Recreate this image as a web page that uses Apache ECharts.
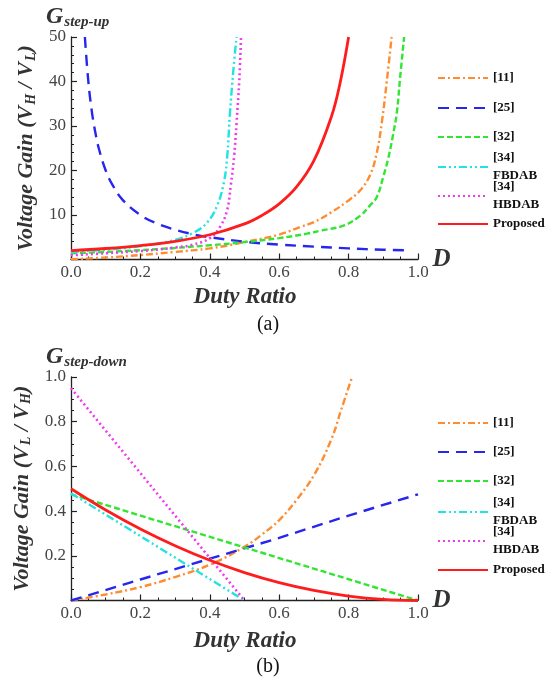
<!DOCTYPE html>
<html><head><meta charset="utf-8">
<script src="https://cdn.jsdelivr.net/npm/echarts@6/dist/echarts.min.js"></script>
<style>html,body{margin:0;padding:0;background:#fff}#c{width:554px;height:681px}</style>
</head><body><div id="c"></div>
<script>
// ---------- data ----------
const seriesNames = ['[11]', '[25]', '[32]', '[34] FBDAB', '[34] HBDAB', 'Proposed'];

// (a) step-up voltage gain
const upD11 = [0, 0.1, 0.2, 0.3, 0.4, 0.5, 0.6, 0.66, 0.7, 0.75, 0.795, 0.833, 0.862, 0.881, 0.896, 0.91, 0.924];
const upG11 = [0.05, 0.44, 1.0, 1.7, 2.5, 3.9, 5.6, 7.3, 8.4, 10.6, 13, 15.5, 19, 23.9, 31, 40, 50];
const upD25 = [0.04, 0.05, 0.06, 0.07, 0.08, 0.1, 0.12, 0.15, 0.2, 0.25, 0.3, 0.35, 0.4, 0.5, 0.6, 0.7, 0.8, 0.9, 0.98];
const upG25 = [50, 40, 33.3, 28.6, 25, 20, 16.7, 13.3, 10, 8, 6.7, 5.7, 5, 4, 3.35, 2.9, 2.5, 2.2, 2.05];
const upD32 = [0, 0.1, 0.2, 0.3, 0.4, 0.5, 0.6, 0.68, 0.72, 0.785, 0.833, 0.86, 0.881, 0.9, 0.915, 0.928, 0.939, 0.948, 0.96];
const upG32 = [1.4, 1.7, 2.1, 2.6, 3.2, 3.9, 4.8, 5.8, 6.5, 7.6, 9.8, 12, 14, 18.6, 23, 28, 33, 40.5, 50];
const upDFB = [0, 0.1, 0.2, 0.25, 0.3, 0.35, 0.39, 0.42, 0.44, 0.45, 0.458, 0.468, 0.477];
const upGFB = [1.7, 2.2, 3.0, 3.6, 4.4, 5.9, 8.1, 11.9, 17.1, 23, 32.8, 42.6, 50];
const upDHB = [0, 0.1, 0.2, 0.26, 0.3, 0.35, 0.4, 0.43, 0.45, 0.46, 0.47, 0.477, 0.485, 0.49];
const upGHB = [0.95, 1.4, 1.9, 2.3, 2.7, 3.3, 4.8, 7.4, 11.1, 16.4, 23.1, 30.6, 40.3, 50];
const upDP  = [0, 0.1, 0.2, 0.3, 0.4, 0.5, 0.55, 0.6, 0.65, 0.7, 0.75, 0.775, 0.8];
const upGP  = [2.0, 2.47, 3.13, 4.08, 5.56, 8.0, 9.9, 12.5, 16.3, 22.2, 32, 39.5, 50];

// (b) step-down voltage gain
const dnD11 = [0, 0.1, 0.2, 0.3, 0.4, 0.5, 0.55, 0.6, 0.65, 0.7, 0.75, 0.78, 0.81];
const dnG11 = [0, 0.027, 0.06, 0.105, 0.16, 0.24, 0.295, 0.36, 0.45, 0.56, 0.72, 0.86, 1.0];
const dnD25 = [0, 0.2, 0.4, 0.6, 0.8, 1.0];
const dnG25 = [0, 0.094, 0.187, 0.28, 0.38, 0.475];
const dnD32 = [0, 0.2, 0.4, 0.6, 0.8, 1.0];
const dnG32 = [0.475, 0.38, 0.285, 0.19, 0.095, 0];
const dnDFB = [0, 0.1, 0.2, 0.3, 0.4, 0.5];
const dnGFB = [0.48, 0.384, 0.288, 0.192, 0.096, 0];
const dnDHB = [0, 0.1, 0.2, 0.3, 0.4, 0.5];
const dnGHB = [0.95, 0.76, 0.57, 0.38, 0.19, 0];
const dnDP  = [0, 0.1, 0.2, 0.3, 0.4, 0.5, 0.6, 0.7, 0.8, 0.9, 1.0];
const dnGP  = [0.5, 0.405, 0.32, 0.245, 0.18, 0.125, 0.08, 0.045, 0.02, 0.005, 0];

const xTickLabels = ['0.0', '0.2', '0.4', '0.6', '0.8', '1.0'];
const upTickLabels = ['10', '20', '30', '40', '50'];
const dnTickLabels = ['0.2', '0.4', '0.6', '0.8', '1.0'];

// ---------- styles ----------
const SERIF = 'Liberation Serif';
const TXT = '#333';
const lineStyles = {
  '[11]':       { color: '#ff8c2e', type: [7, 3, 2, 3], width: 2.4 },
  '[25]':       { color: '#2626ee', type: [11, 7], width: 2.4 },
  '[32]':       { color: '#33e533', type: [6, 3], width: 2.4 },
  '[34] FBDAB': { color: '#22e2e2', type: [8, 3, 2, 3, 2, 3], width: 2.4 },
  '[34] HBDAB': { color: '#f03cf0', type: [2, 3], width: 2.6 },
  'Proposed':   { color: '#ff1c1c', type: 'solid', width: 2.8 }
};
// curves drawn smoothed; straight step-down lines drawn unsmoothed
const upSmooth = [0.4, 0.4, 0.4, 0.4, 0.4, 0.4];
const dnSmooth = [0.4, false, false, false, false, 0.4];

const pair = (xs, ys) => xs.map((x, i) => [x, ys[i]]);
const upData = [pair(upD11, upG11), pair(upD25, upG25), pair(upD32, upG32), pair(upDFB, upGFB), pair(upDHB, upGHB), pair(upDP, upGP)];
const dnData = [pair(dnD11, dnG11), pair(dnD25, dnG25), pair(dnD32, dnG32), pair(dnDFB, dnGFB), pair(dnDHB, dnGHB), pair(dnDP, dnGP)];

const series = [];
[[upData, upSmooth], [dnData, dnSmooth]].forEach(([set, sm], gi) => {
  set.forEach((d, i) => {
    const nm = seriesNames[i];
    series.push({
      type: 'line', name: nm, xAxisIndex: gi, yAxisIndex: gi, data: d,
      showSymbol: false, symbol: 'none', smooth: sm[i],
      lineStyle: Object.assign({}, lineStyles[nm]),
      color: lineStyles[nm].color, z: nm === 'Proposed' ? 3 : 2, silent: true, animation: false
    });
  });
});

const tickFont = { fontFamily: SERIF, fontSize: 17, color: '#444' };
function xAxis(gi) {
  return {
    type: 'value', gridIndex: gi, min: 0, max: 1, interval: 0.2,
    axisLine: { show: true, onZero: false, lineStyle: { color: '#222', width: 1.3 } },
    axisTick: { show: true, inside: true, length: 6, lineStyle: { color: '#222', width: 1.2 } },
    minorTick: { show: true, splitNumber: 4, length: 3, lineStyle: { color: '#222', width: 1 } },
    splitLine: { show: false },
    axisLabel: Object.assign({ margin: 5, formatter: (v) => xTickLabels[Math.round(v / 0.2)] }, tickFont),
    name: 'D', nameLocation: 'end', nameGap: 12,
    nameTextStyle: { fontFamily: SERIF, fontStyle: 'italic', fontWeight: 'bold', fontSize: 25, color: TXT, verticalAlign: 'middle', padding: [6, 0, 0, 0] }
  };
}
function yName(a, b) {
  return `{m|Voltage Gain (V}{s|${a}}{m| / V}{s|${b}}{m|)}`;
}
const richName = {
  m: { fontFamily: SERIF, fontStyle: 'italic', fontWeight: 'bold', fontSize: 22, color: TXT, lineHeight: 22, verticalAlign: 'top' },
  s: { fontFamily: SERIF, fontStyle: 'italic', fontWeight: 'bold', fontSize: 14, color: TXT, lineHeight: 14, verticalAlign: 'top', padding: [9, 0, 0, 1] }
};
function yAxis(gi, max, interval, minor, labels, nm) {
  return {
    type: 'value', gridIndex: gi, min: 0, max: max, interval: interval,
    axisLine: { show: true, onZero: false, lineStyle: { color: '#222', width: 1.3 } },
    axisTick: { show: true, inside: true, length: 6, lineStyle: { color: '#222', width: 1.2 } },
    minorTick: { show: true, splitNumber: minor, length: 3, lineStyle: { color: '#222', width: 1 } },
    splitLine: { show: false },
    axisLabel: Object.assign({ margin: 5, showMinLabel: false,
      formatter: (v) => { const k = Math.round(v / interval); return k > 0 ? labels[k - 1] : ''; } }, tickFont),
    name: nm, nameLocation: 'middle', nameRotate: 90, nameGap: 32,
    nameTextStyle: { rich: richName }
  };
}

const legends = [];
const legendCenters = [[78, 108, 137, 167, 196, 224], [423, 452, 481, 512, 541, 570]];
legendCenters.forEach((cs) => cs.forEach((cy, i) => {
  const nm = seriesNames[i];
  const two = nm.indexOf(' ') >= 0;
  legends.push({
    data: [nm], orient: 'vertical', left: 437, top: cy - (two ? 18 : 9), padding: 0,
    itemWidth: 50, itemHeight: 14, itemGap: 0, selectedMode: false,
    itemStyle: { opacity: 0 },
    formatter: (n) => n.replace(' ', '\n'),
    textStyle: { fontFamily: SERIF, fontWeight: 'bold', fontSize: 13, color: '#111', lineHeight: 18 }
  });
}));

const bi = { fontFamily: SERIF, fontStyle: 'italic', fontWeight: 'bold', fill: TXT };
const option = {
  backgroundColor: '#fff',
  animation: false,
  grid: [
    { left: 71, width: 347, top: 37, height: 222.5 },
    { left: 71, width: 347, top: 377, height: 223.5 }
  ],
  xAxis: [xAxis(0), xAxis(1)],
  yAxis: [
    yAxis(0, 50, 10, 5, upTickLabels, yName('H', 'L')),
    yAxis(1, 1, 0.2, 4, dnTickLabels, yName('L', 'H'))
  ],
  legend: legends,
  series: series,
  graphic: [
    { type: 'text', x: 46, y: 5, style: { text: '{g|G}{s|step-up}', rich: {
      g: Object.assign({ fontSize: 24, lineHeight: 24, verticalAlign: 'top' }, bi),
      s: Object.assign({ fontSize: 15, lineHeight: 15, verticalAlign: 'top', padding: [10, 0, 0, 1] }, bi) } } },
    { type: 'text', x: 46, y: 345, style: { text: '{g|G}{s|step-down}', rich: {
      g: Object.assign({ fontSize: 24, lineHeight: 24, verticalAlign: 'top' }, bi),
      s: Object.assign({ fontSize: 15, lineHeight: 15, verticalAlign: 'top', padding: [10, 0, 0, 1] }, bi) } } },
    { type: 'text', x: 245, y: 297, style: Object.assign({ text: 'Duty Ratio', fontSize: 23, align: 'center', verticalAlign: 'middle' }, bi) },
    { type: 'text', x: 245, y: 641, style: Object.assign({ text: 'Duty Ratio', fontSize: 23, align: 'center', verticalAlign: 'middle' }, bi) },
    { type: 'text', x: 268, y: 325, style: { text: '(a)', fontFamily: SERIF, fontSize: 20, fill: '#111', align: 'center', verticalAlign: 'middle' } },
    { type: 'text', x: 268, y: 667, style: { text: '(b)', fontFamily: SERIF, fontSize: 20, fill: '#111', align: 'center', verticalAlign: 'middle' } }
  ]
};
const chart = echarts.init(document.getElementById('c'), null, { renderer: 'canvas' });
chart.setOption(option);
</script>
</body></html>
